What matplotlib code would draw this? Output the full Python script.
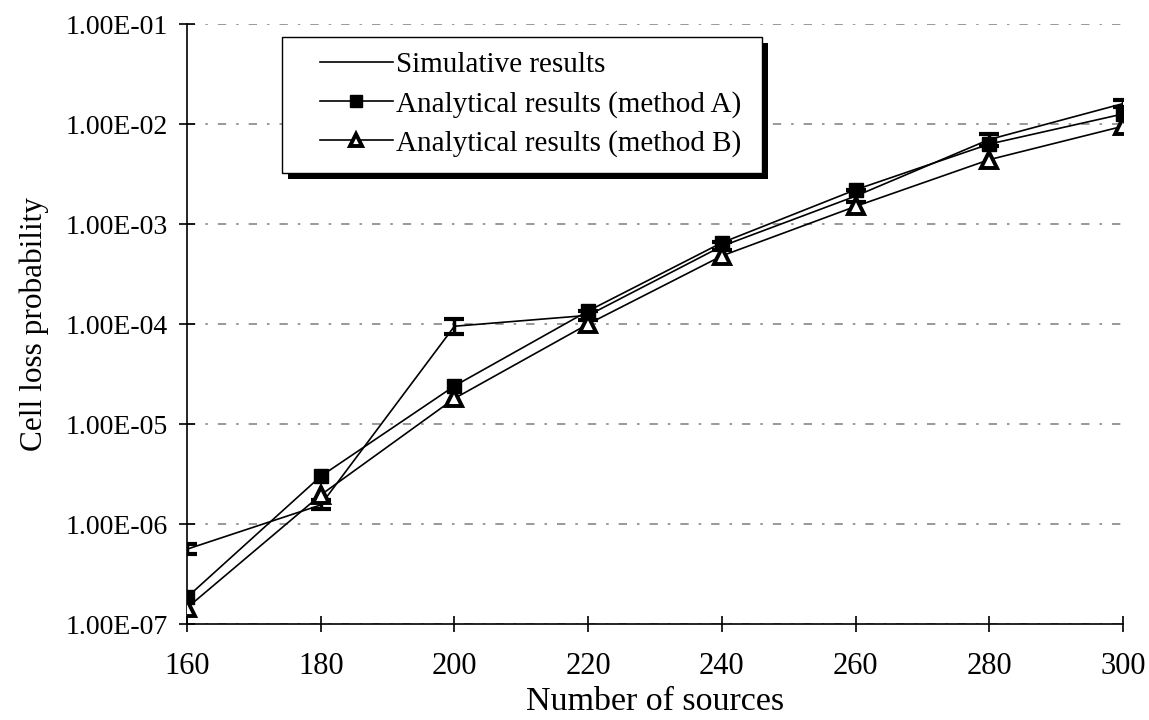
import matplotlib
matplotlib.use("Agg")
import matplotlib.pyplot as plt
from matplotlib.patches import Rectangle
from matplotlib.ticker import FuncFormatter, LogLocator, NullLocator

plt.rcParams['font.family'] = ['Liberation Serif', 'DejaVu Serif']

# data
sources = [160, 180, 200, 220, 240, 260, 280, 300]
sim = [5.6e-7, 1.55e-6, 9.5e-5, 1.22e-4, 6.0e-4, 1.9e-3, 7.0e-3, 1.6e-2]
sim_lo = [5.0e-7, 1.4e-6, 7.9e-5, 1.1e-4, 5.5e-4, 1.65e-3, 6.0e-3, 1.47e-2]
sim_hi = [6.3e-7, 1.75e-6, 1.11e-4, 1.35e-4, 6.6e-4, 2.2e-3, 7.9e-3, 1.75e-2]
method_a = [1.85e-7, 3.0e-6, 2.4e-5, 1.35e-4, 6.5e-4, 2.2e-3, 6.3e-3, 1.26e-2]
method_b = [1.45e-7, 1.95e-6, 1.8e-5, 1.0e-4, 4.8e-4, 1.5e-3, 4.4e-3, 9.5e-3]

W, H = 1149, 720
fig = plt.figure(figsize=(W / 100, H / 100), dpi=100)
ax = fig.add_axes([187 / W, 1 - 624 / H, (1123 - 187) / W, (624 - 24) / H])

yerr = [[s - lo for s, lo in zip(sim, sim_lo)],
        [hi - s for s, hi in zip(sim, sim_hi)]]

ax.plot(sources, sim, color='black', lw=1.2, label='Simulative results', zorder=3)
ax.errorbar(sources, sim, yerr=yerr, fmt='none', ecolor='black', elinewidth=2.5,
            capsize=7, capthick=3, zorder=3)
ax.plot(sources, method_a, color='black', lw=1.2, marker='s', markersize=10,
        markerfacecolor='black', label='Analytical results (method A)', zorder=4)
ax.plot(sources, method_b, color='black', lw=1.2, marker='^', markersize=11,
        markerfacecolor='white', markeredgecolor='black', markeredgewidth=2.8,
        label='Analytical results (method B)', zorder=5)

ax.set_yscale('log')
ax.set_ylim(1e-7, 1e-1)
ax.set_xlim(160, 300)
ax.set_xticks(sources)
ax.yaxis.set_major_locator(LogLocator(base=10, numticks=10))
ax.yaxis.set_minor_locator(NullLocator())
ax.yaxis.set_major_formatter(FuncFormatter(lambda v, p: f"{v:.2E}"))

ax.spines['top'].set_visible(False)
ax.spines['right'].set_visible(False)
for s in ['left', 'bottom']:
    ax.spines[s].set_linewidth(1.2)
ax.tick_params(axis='both', direction='inout', length=12, width=1.2)
ax.tick_params(axis='y', labelsize=20, pad=8)
ax.tick_params(axis='x', labelsize=22, pad=14)
ax.yaxis.grid(True, which='major', color='#888888', linewidth=1.2,
              linestyle=(0, (5, 6, 1.5, 6)))
ax.set_axisbelow(True)

ax.set_xlabel('Number of sources', fontsize=24.5, labelpad=4)
ax.set_ylabel('Cell loss probability', fontsize=22.5, labelpad=12)

# legend box with a solid drop shadow
bx0, by0, bx1, by1 = 282, 37, 762, 173
shadow = Rectangle(((bx0 + 6) / W, 1 - (by1 + 6) / H), (bx1 - bx0) / W, (by1 - by0) / H,
                   transform=fig.transFigure, facecolor='black', edgecolor='none',
                   zorder=10, clip_on=False)
box = Rectangle((bx0 / W, 1 - by1 / H), (bx1 - bx0) / W, (by1 - by0) / H,
                transform=fig.transFigure, facecolor='white', edgecolor='black',
                linewidth=1.0, zorder=11, clip_on=False)
ax.add_patch(shadow)
ax.add_patch(box)

leg = ax.legend(loc='upper left', bbox_to_anchor=(320 / W, 1 - 52 / H),
                bbox_transform=fig.transFigure, borderaxespad=0, borderpad=0,
                fontsize=21, frameon=False, handlelength=2.5, handletextpad=0.1,
                numpoints=1, labelspacing=0.42)
leg.set_zorder(12)
for h in leg.legend_handles:
    h.set_markersize(9)

fig.savefig('out.png', dpi=100)
